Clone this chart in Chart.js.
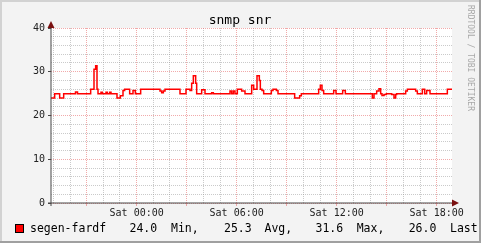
<!DOCTYPE html>
<html>
<head>
<meta charset="utf-8">
<script src="https://cdn.jsdelivr.net/npm/chart.js@4"></script>
<style>
  html, body { margin: 0; padding: 0; background: #f3f3f3; }
  #wrap { width: 481px; height: 243px; }
</style>
</head>
<body>
<div id="wrap"><canvas id="snrChart" width="481" height="243"></canvas></div>
<script>
// time in hours relative to Sat 00:00 (negative = Friday evening)
const times = [-5.14, -4.92, -4.62, -4.38, -3.67, -3.55, -2.76, -2.56, -2.46, -2.38,
    -2.32, -2.14, -2.06, -1.84, -1.76, -1.62, -1.54, -1.18, -0.98, -0.82,
    -0.72, -0.42, -0.22, -0.08, 0.24, 1.40, 1.50, 1.60, 1.70, 2.60,
    2.96, 3.20, 3.30, 3.40, 3.54, 3.60, 3.90, 4.10, 4.50, 4.60,
    5.60, 5.70, 5.80, 5.90, 6.04, 6.30, 6.50, 6.90, 7.02, 7.22,
    7.36, 7.42, 7.52, 7.62, 8.08, 8.18, 8.38, 8.48, 9.48, 9.78,
    9.88, 10.92, 11.02, 11.12, 11.22, 11.82, 11.96, 12.36, 12.52, 14.14,
    14.24, 14.40, 14.54, 14.64, 14.72, 14.84, 14.98, 15.30, 15.44, 15.54,
    15.60, 16.14, 16.24, 16.74, 16.84, 17.14, 17.28, 17.40, 17.60, 18.64,
    18.92];
const snr = [24.0, 25, 24, 25, 25.4, 25, 26, 30.6, 31.4, 26,
    25, 25.3, 25, 25.3, 25, 25.3, 25, 24, 24.5, 25.7,
    26, 25, 25.7, 25, 26, 25.6, 25.2, 25.6, 26, 25,
    26, 25.7, 27.4, 29.1, 27.4, 25, 25.9, 25, 25.2, 25,
    25.6, 25, 25.6, 25, 26, 25.6, 25, 26.9, 26, 29.1,
    28, 26, 25.7, 25, 25.7, 26, 25.7, 25, 24, 24.5,
    25, 26, 26.9, 25.7, 25, 25.7, 25, 25.7, 25, 24,
    25, 25.6, 26.1, 25, 24.6, 24.8, 25, 24.8, 24, 24.8,
    25, 25.6, 26, 25.6, 25, 26, 25, 25.7, 25, 26,
    26];

const xMin = -5.14;
const xMax = 18.92;
const xTickHours = [-5, -4, -3, -2, -1, 0, 1, 2, 3, 4, 5, 6, 7, 8, 9, 10, 11, 12, 13, 14, 15, 16, 17, 18];
const xLabels = { 0: 'Sat 00:00', 6: 'Sat 06:00', 12: 'Sat 12:00', 18: 'Sat 18:00' };
const yTicks = [0, 2, 4, 6, 8, 10, 12, 14, 16, 18, 20, 22, 24, 26, 28, 30, 32, 34, 36, 38, 40];

const seriesName = 'segen-fardf';
const legendStats = [['24.0', 'Min,'], ['25.3', 'Avg,'], ['31.6', 'Max,'], ['26.0', 'Last']];

const MONO = "'DejaVu Sans Mono', monospace";
const majorGrid = 'rgba(230, 100, 100, 0.55)';
const minorGrid = 'rgba(150, 150, 150, 0.5)';
const axisColor = '#484848';
const arrowColor = '#7a1010';

const points = times.map((t, i) => ({ x: t, y: snr[i] }));

const rrdDecor = {
    id: 'rrdDecor',
    beforeDraw(chart) {
        const ctx = chart.ctx;
        const a = chart.chartArea;
        ctx.save();
        ctx.fillStyle = '#f3f3f3';
        ctx.fillRect(0, 0, chart.width, chart.height);
        // 3d frame
        ctx.fillStyle = '#d2d2d2';
        ctx.fillRect(0, 0, chart.width, 2);
        ctx.fillRect(0, 0, 2, chart.height);
        ctx.fillStyle = '#a0a0a0';
        ctx.fillRect(0, chart.height - 2, chart.width, 2);
        ctx.fillRect(chart.width - 2, 0, 2, chart.height);
        ctx.fillStyle = '#ffffff';
        ctx.fillRect(a.left, a.top, a.right - a.left, a.bottom - a.top);
        ctx.restore();
    },
    afterDraw(chart) {
        const ctx = chart.ctx;
        const a = chart.chartArea;
        ctx.save();

        // solid axes
        ctx.strokeStyle = axisColor;
        ctx.lineWidth = 1;
        ctx.beginPath();
        ctx.moveTo(a.left, a.top);
        ctx.lineTo(a.left, a.bottom + 3);
        ctx.moveTo(a.left - 3, a.bottom);
        ctx.lineTo(a.right, a.bottom);
        ctx.stroke();

        // axis arrows
        ctx.fillStyle = arrowColor;
        ctx.beginPath();
        ctx.moveTo(a.left - 3.5, a.top);
        ctx.lineTo(a.left, a.top - 7);
        ctx.lineTo(a.left + 3.5, a.top);
        ctx.closePath();
        ctx.fill();
        ctx.beginPath();
        ctx.moveTo(a.right, a.bottom - 3.5);
        ctx.lineTo(a.right + 7, a.bottom);
        ctx.lineTo(a.right, a.bottom + 3.5);
        ctx.closePath();
        ctx.fill();

        // title
        ctx.fillStyle = '#000';
        ctx.font = '13px ' + MONO;
        ctx.textAlign = 'center';
        ctx.textBaseline = 'alphabetic';
        ctx.fillText('snmp snr', 240, 24);

        // watermark
        ctx.save();
        ctx.translate(470, 5);
        ctx.rotate(Math.PI / 2);
        ctx.fillStyle = '#a8a8a8';
        ctx.font = '8px ' + MONO;
        ctx.textAlign = 'left';
        ctx.textBaseline = 'middle';
        ctx.fillText('RRDTOOL / TOBI OETIKER', 0, 0);
        ctx.restore();

        // legend
        ctx.fillStyle = '#ff0000';
        ctx.fillRect(15, 224, 9, 9);
        ctx.strokeStyle = '#000';
        ctx.lineWidth = 1;
        ctx.strokeRect(15.5, 224.5, 8, 8);

        ctx.fillStyle = '#000';
        ctx.font = '11.5px ' + MONO;
        ctx.textAlign = 'left';
        ctx.textBaseline = 'middle';
        ctx.fillText(seriesName, 30, 229);
        const valueX = [129.5, 224, 315.5, 408.7];
        const labelX = [171, 264.5, 356.7, 450];
        legendStats.forEach((s, i) => {
            ctx.fillText(s[0], valueX[i], 229);
            ctx.fillText(s[1], labelX[i], 229);
        });
        ctx.restore();
    }
};

new Chart(document.getElementById('snrChart'), {
    type: 'line',
    data: {
        datasets: [{
            label: seriesName,
            data: points,
            borderColor: '#ff0000',
            borderWidth: 1.5,
            pointRadius: 0,
            stepped: true,
            fill: false
        }]
    },
    options: {
        responsive: false,
        animation: false,
        events: [],
        layout: { padding: { left: 0, top: 28, right: 29, bottom: 0 } },
        plugins: {
            legend: { display: false },
            tooltip: { enabled: false }
        },
        scales: {
            x: {
                type: 'linear',
                min: xMin,
                max: xMax,
                afterBuildTicks: (scale) => {
                    scale.ticks = xTickHours.map(v => ({ value: v }));
                },
                afterFit: (scale) => { scale.height = 40; },
                ticks: {
                    autoSkip: false,
                    maxRotation: 0,
                    padding: 1,
                    color: '#222',
                    font: { family: MONO, size: 10 },
                    callback: (v) => xLabels[v] || ''
                },
                grid: {
                    color: (c) => (c.tick && c.tick.value % 3 === 0) ? majorGrid : minorGrid,
                    tickColor: (c) => (c.tick && c.tick.value % 3 === 0) ? majorGrid : 'transparent',
                    tickLength: 3
                },
                border: { display: false, dash: [1, 1] }
            },
            y: {
                min: 0,
                max: 40,
                afterBuildTicks: (scale) => {
                    scale.ticks = yTicks.map(v => ({ value: v }));
                },
                afterFit: (scale) => { scale.width = 51; },
                ticks: {
                    autoSkip: false,
                    padding: 3,
                    color: '#222',
                    font: { family: MONO, size: 10 },
                    callback: (v) => (v % 10 === 0) ? v : ''
                },
                grid: {
                    color: (c) => (c.tick && c.tick.value % 10 === 0) ? majorGrid : minorGrid,
                    tickColor: (c) => (c.tick && c.tick.value % 10 === 0) ? axisColor : 'transparent',
                    tickLength: 3
                },
                border: { display: false, dash: [1, 1] }
            }
        }
    },
    plugins: [rrdDecor]
});
</script>
</body>
</html>
